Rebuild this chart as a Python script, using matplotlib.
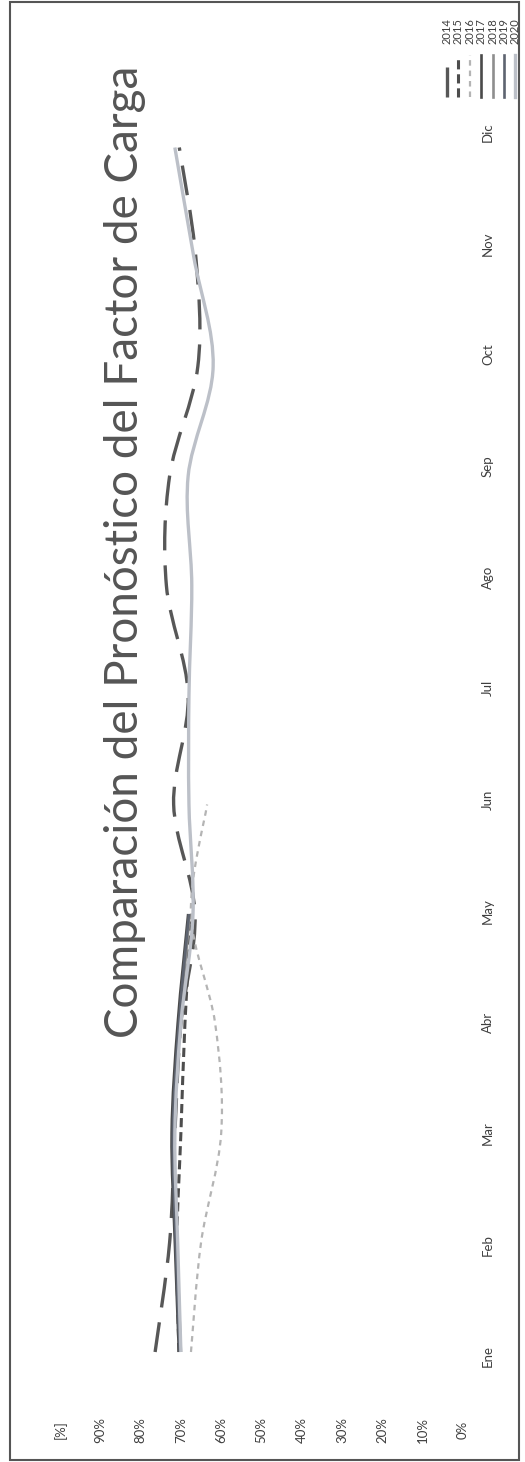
import matplotlib.pyplot as plt
from matplotlib.path import Path
from matplotlib.patches import PathPatch, Rectangle
from matplotlib.transforms import blended_transform_factory

plt.rcParams['font.family'] = ['Lato', 'DejaVu Sans']

months = ['Ene', 'Feb', 'Mar', 'Abr', 'May', 'Jun', 'Jul', 'Ago', 'Sep', 'Oct', 'Nov', 'Dic']
pct_ticks = [0, 10, 20, 30, 40, 50, 60, 70, 80, 90]

years = ['2014', '2015', '2016', '2017', '2018', '2019', '2020']
v2014 = [76.4, 72.8, 71.5, 70.0, 66.5, 71.8, 68.2, 73.6, 72.8, 65.8, 66.3, 70.4]
v2015 = [70.5, 71.0, 70.0, 69.0, 67.5]
v2016 = [67.5, 65.0, 60.0, 61.5, 67.5, 63.5]
v2017 = [70.5, 71.5, 72.3, 70.8, 68.2]
v2018 = [70.0, 71.0, 71.8, 70.2, 67.8]
v2019 = [70.3, 71.3, 72.0, 70.5, 68.0]
v2020 = [70.0, 70.8, 71.5, 70.0, 67.0, 68.0, 68.0, 67.3, 68.2, 62.0, 66.8, 71.5]
series = [v2014, v2015, v2016, v2017, v2018, v2019, v2020]

colors = ['#575757', '#4d4d4d', '#b4b4b4', '#4a4a4a', '#8e8e8e', '#5e6470', '#bcc0c8']
widths = [2.4, 2.2, 1.6, 1.9, 1.9, 1.9, 2.4]
styles = [(0, (9, 4.5)), (0, (3, 1.6)), (0, (2.5, 2.2)), '-', '-', '-', '-']


def smooth_path(vals):
    # excel-like smoothed line: catmull-rom as cubic bezier
    pts = [(v, i) for i, v in enumerate(vals)]
    n = len(pts)
    verts = [pts[0]]
    codes = [Path.MOVETO]
    for i in range(n - 1):
        p0 = pts[i - 1] if i > 0 else pts[i]
        p1 = pts[i]
        p2 = pts[i + 1]
        p3 = pts[i + 2] if i + 2 < n else pts[i + 1]
        c1 = (p1[0] + (p2[0] - p0[0]) / 6, p1[1] + (p2[1] - p0[1]) / 6)
        c2 = (p2[0] - (p3[0] - p1[0]) / 6, p2[1] - (p3[1] - p1[1]) / 6)
        verts += [c1, c2, p2]
        codes += [Path.CURVE4] * 3
    return Path(verts, codes)


W, H = 525, 1462
fig = plt.figure(figsize=(W / 100, H / 100), dpi=100)

# rotated chart: value axis runs right->left, months bottom->top
x0, x100 = 463, 60
y_ene, step = 1352, 109.5
y_lo = y_ene + step
y_hi = y_ene - 12 * step
ax = fig.add_axes([x100 / W, (H - y_lo) / H, (x0 - x100) / W, (y_lo - y_hi) / H])
ax.set_xlim(100, 0)
ax.set_ylim(-1, 12)
ax.axis('off')

for vals, c, lw, ls in zip(series, colors, widths, styles):
    patch = PathPatch(smooth_path(vals), facecolor='none', edgecolor=c,
                      linewidth=lw, linestyle=ls, capstyle='butt')
    ax.add_patch(patch)

text_color = '#3f3f3f'
tr_bottom = blended_transform_factory(ax.transData, fig.transFigure)
for v in pct_ticks:
    ax.text(v, 1 - 1430 / H, f'{v}%', transform=tr_bottom, rotation=90,
            ha='center', va='center', fontsize=9.5, color=text_color)
ax.text(100, 1 - 1430 / H, '[%]', transform=tr_bottom, rotation=90,
        ha='center', va='center', fontsize=9.5, color=text_color)

# category labels sit on their own (slightly wider) scale, as in the scan
lab_ax = fig.add_axes([0, (H - 1356) / H, 1, (1356 - 132) / H])
lab_ax.set_ylim(0, 11)
lab_ax.axis('off')
tr_right = blended_transform_factory(fig.transFigure, lab_ax.transData)
for i, m in enumerate(months):
    lab_ax.text(488 / W, i, m, transform=tr_right, rotation=90,
                ha='center', va='center', fontsize=9.5, color=text_color)

fig.text(125 / W, 1 - 552 / H, 'Comparación del Pronóstico del Factor de Carga',
         rotation=90, ha='center', va='center', fontsize=33, color='#555555')

# legend, drawn rotated like the rest of the chart
for k, (yr, c, lw, ls) in enumerate(zip(years, colors, widths, styles)):
    lx = (447 + 11.4 * k) / W
    fig.add_artist(plt.Line2D([lx, lx], [1 - 97 / H, 1 - 55 / H], color=c,
                              linewidth=lw, linestyle=ls, transform=fig.transFigure))
    fig.text(lx, 1 - 31 / H, yr, rotation=90, ha='center', va='center',
             fontsize=8, color=text_color)

fig.add_artist(Rectangle((10 / W, 2 / H), 509 / W, 1 - 4 / H, transform=fig.transFigure,
                         fill=False, edgecolor='#555555', linewidth=1.5))

fig.savefig('out.png', dpi=100)
